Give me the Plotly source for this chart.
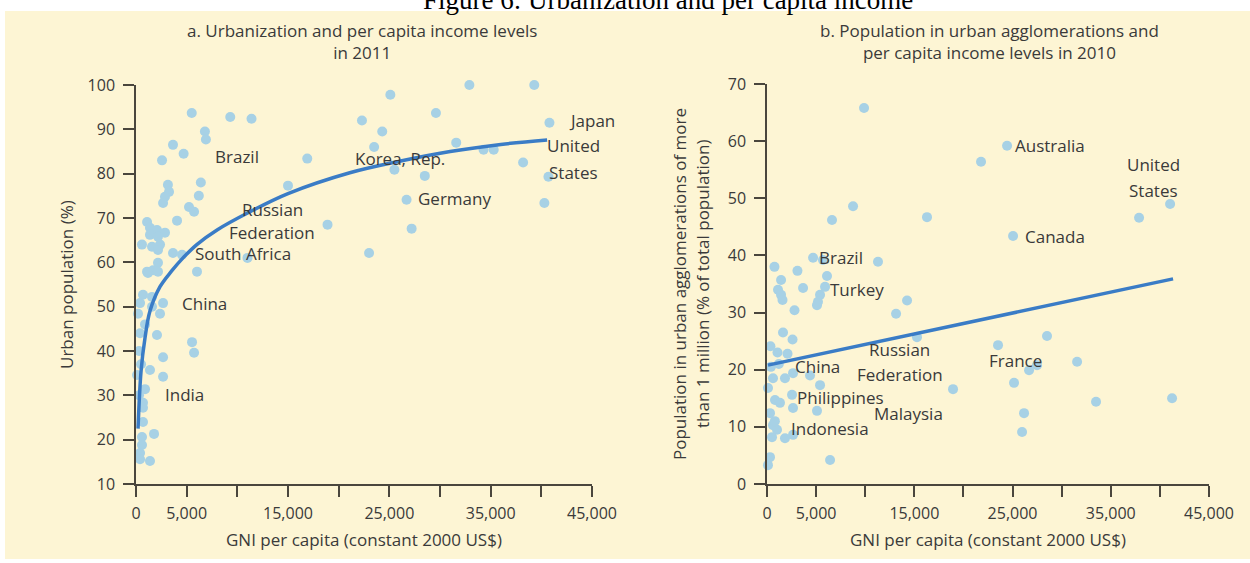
import plotly.graph_objects as go

# ---- panel a: urbanization vs income, 2011 ----
gni_a = [5500, 9300, 11400, 6800, 6900, 3650, 4700, 2570, 16900, 6400,
         3150, 3260, 6200, 2860, 2670, 5230, 5730, 4050, 1090, 1380,
         2070, 2860, 590, 1580, 2370, 3650, 4540, 6020, 11000, 1090,
         1680, 2170, 15000, 32900, 39300, 25100, 22300, 29600, 24300, 40800,
         23500, 31600, 25500, 28500, 38200, 40700, 34300, 35300, 26700, 40300,
         18900, 27200, 23000, 400, 1580, 2670, 2370, 200, 2070, 5530,
         5730, 2670, 1380, 100, 2670, 890, 690, 690, 690, 1780,
         590, 590, 400, 1380, 400, 1380, 2170, 2170, 1180, 690,
         1580, 400, 2170, 890, 300, 500, 300]
urban_a = [93.7, 92.8, 92.4, 89.5, 87.7, 86.5, 84.5, 83.0, 83.4, 78.0,
           77.5, 75.9, 75.0, 74.8, 73.4, 72.5, 71.4, 69.4, 69.1, 67.8,
           67.3, 66.7, 64.0, 63.5, 64.0, 62.1, 61.7, 57.9, 61.0, 57.9,
           58.2, 59.9, 77.3, 100.0, 100.0, 97.8, 92.0, 93.7, 89.5, 91.5,
           86.0, 87.0, 80.9, 79.5, 82.5, 79.3, 85.4, 85.4, 74.1, 73.4,
           68.5, 67.6, 62.1, 50.8, 52.2, 50.8, 48.4, 48.4, 43.6, 42.0,
           39.6, 38.6, 35.7, 34.6, 34.2, 31.4, 28.3, 27.2, 24.0, 21.3,
           20.6, 18.8, 17.0, 15.2, 15.6, 66.2, 65.8, 62.8, 57.6, 52.7,
           50.0, 44.0, 57.9, 46.0, 40.0, 37.0, 30.0]
trend_a_x = [200, 500, 890, 1380, 2370, 3500, 4640, 6000, 8000, 11250,
             15000, 21100, 26000, 31000, 36000, 40570]
trend_a_y = [22.5, 35.5, 43.0, 49.0, 54.5, 58.0, 61.0, 64.0, 67.3, 71.4,
             75.5, 80.2, 82.8, 85.0, 86.6, 87.6]
names_a = ["Japan", "United", "States", "Korea, Rep.", "Germany", "Brazil",
           "Russian", "Federation", "South Africa", "China", "India"]
lab_x_a = [42550, 43140, 43140, 26060, 27640, 7600, 13430, 13430, 5630, 4340, 2670]
lab_y_a = [91.9, 86.3, 80.3, 83.4, 74.3, 83.8, 71.9, 66.7, 62.1, 50.8, 30.3]
anchor_a = ["left", "center", "center", "center", "left", "left",
            "center", "center", "left", "left", "left"]

# ---- panel b: agglomerations vs income, 2010 ----
gni_b = [9880, 8760, 6620, 16290, 4690, 5700, 11300, 760, 3100, 6110,
         1430, 3670, 5910, 1120, 1430, 1580, 5400, 5190, 5090, 2800,
         14260, 13140, 1630, 2600, 350, 1070, 2090, 15270, 610, 100,
         1830, 2650, 4380, 5400, 2550, 815, 1320, 2650, 5090, 305,
         610, 1020, 510, 1830, 2650, 305, 100, 6420, 18940, 24440,
         21790, 25050, 37880, 41040, 28510, 23520, 31570, 27490, 26680, 25150,
         33500, 41240, 26170, 25970, 400, 1200, 800]
agglo_b = [65.8, 48.6, 46.2, 46.7, 39.6, 39.2, 38.9, 38.0, 37.3, 36.4,
           35.7, 34.3, 34.5, 34.0, 33.1, 32.2, 33.1, 31.9, 31.3, 30.4,
           32.1, 29.8, 26.5, 25.3, 24.1, 23.0, 22.8, 25.7, 18.5, 16.8,
           18.5, 19.4, 19.0, 17.3, 15.6, 14.7, 14.2, 13.3, 12.8, 12.4,
           10.3, 9.5, 8.2, 8.0, 8.6, 4.7, 3.3, 4.2, 16.6, 59.2,
           56.4, 43.4, 46.6, 49.0, 25.9, 24.3, 21.4, 20.8, 19.9, 17.7,
           14.4, 15.0, 12.4, 9.1, 20.5, 21.0, 11.0]
trend_b_x = [100, 41340]
trend_b_y = [20.8, 35.9]
names_b = ["Australia", "United", "States", "Canada", "Brazil", "Turkey",
           "Russian", "Federation", "China", "Philippines", "Malaysia",
           "Indonesia", "France"]
lab_x_b = [25050, 39300, 39300, 26070, 5090, 6210, 13540, 13540, 2650, 2850,
           10690, 2240, 22400]
lab_y_b = [59.2, 56.0, 51.4, 43.4, 39.7, 34.1, 23.5, 19.1, 20.5, 15.2,
           12.3, 9.8, 21.7]
anchor_b = ["left", "center", "center", "left", "left", "left", "center",
            "center", "left", "left", "left", "left", "left"]

x_ticks = [0, 5000, 10000, 15000, 20000, 25000, 30000, 35000, 40000, 45000]
x_ticktext = ["0", "5,000", "", "15,000", "", "25,000", "", "35,000", "", "45,000"]

W, H = 1250, 563
DOT = "#a7d1e5"
LINE = "#3a7cc6"
AXIS = "#4a463d"
TXT = "#3a3a3a"
FONT = "Open Sans"


def px(x):
    return x / W


def py(y):
    return 1 - y / H


def paper_text(text, x, y, size=17, angle=0, family=FONT, color=TXT):
    return dict(text=text, x=px(x), y=py(y), xref="paper", yref="paper",
                xanchor="center", yanchor="middle", textangle=angle,
                showarrow=False, font=dict(family=family, size=size, color=color))


fig = go.Figure()
fig.add_trace(go.Scatter(x=gni_a, y=urban_a, mode="markers", cliponaxis=False,
                         marker=dict(size=10, color=DOT), xaxis="x", yaxis="y"))
fig.add_trace(go.Scatter(x=trend_a_x, y=trend_a_y, mode="lines", line_shape="spline",
                         line=dict(color=LINE, width=3.5), xaxis="x", yaxis="y"))
fig.add_trace(go.Scatter(x=gni_b, y=agglo_b, mode="markers", cliponaxis=False,
                         marker=dict(size=10, color=DOT), xaxis="x2", yaxis="y2"))
fig.add_trace(go.Scatter(x=trend_b_x, y=trend_b_y, mode="lines",
                         line=dict(color=LINE, width=3.5), xaxis="x2", yaxis="y2"))

axis_common = dict(showgrid=False, zeroline=False, showline=True, linecolor=AXIS,
                   linewidth=1.5, ticks="outside", ticklen=11, tickwidth=1.5,
                   tickcolor=AXIS, automargin=False,
                   tickfont=dict(family=FONT, size=16, color=TXT))

annotations = []
for n, x, y, a in zip(names_a, lab_x_a, lab_y_a, anchor_a):
    annotations.append(dict(text=n, x=x, y=y, xref="x", yref="y", xanchor=a,
                            yanchor="middle", showarrow=False,
                            font=dict(family=FONT, size=17, color=TXT)))
for n, x, y, a in zip(names_b, lab_x_b, lab_y_b, anchor_b):
    annotations.append(dict(text=n, x=x, y=y, xref="x2", yref="y2", xanchor=a,
                            yanchor="middle", showarrow=False,
                            font=dict(family=FONT, size=17, color=TXT)))

annotations += [
    paper_text("Figure 6: Urbanization and per capita income", 668, 0,
               size=27, family="Liberation Serif", color="black"),
    paper_text("a. Urbanization and per capita income levels<br>in 2011", 362, 41.5),
    paper_text("b. Population in urban agglomerations and<br>per capita income levels in 2010",
               989, 41.5),
    paper_text("GNI per capita (constant 2000 US$)", 364, 539),
    paper_text("GNI per capita (constant 2000 US$)", 988, 539),
    paper_text("Urban population (%)", 66, 285, angle=-90),
    paper_text("Population in urban agglomerations of more", 679, 284, angle=-90),
    paper_text("than 1 million (% of total population)", 702, 284, angle=-90),
]

fig.update_layout(
    width=W, height=H,
    margin=dict(l=0, r=0, t=0, b=0, pad=0, autoexpand=False),
    paper_bgcolor="white",
    plot_bgcolor="rgba(0,0,0,0)",
    showlegend=False,
    xaxis=dict(domain=[px(136), px(592)], range=[0, 45000], anchor="y",
               tickvals=x_ticks, ticktext=x_ticktext, ticklabelstandoff=3,
               **axis_common),
    yaxis=dict(domain=[py(484), py(85)], range=[10, 100], anchor="x",
               tickvals=list(range(10, 101, 10)), ticklabelstandoff=5,
               **axis_common),
    xaxis2=dict(domain=[px(767), px(1209)], range=[0, 45000], anchor="y2",
                tickvals=x_ticks, ticktext=x_ticktext, ticklabelstandoff=3,
                **axis_common),
    yaxis2=dict(domain=[py(484), py(84)], range=[0, 70], anchor="x2",
                tickvals=list(range(0, 71, 10)), ticklabelstandoff=5,
                **axis_common),
    shapes=[dict(type="rect", xref="paper", yref="paper", layer="below",
                 x0=px(5), x1=1, y0=py(559), y1=py(11),
                 fillcolor="#fdf5d4", line=dict(width=0))],
    annotations=annotations,
)

# drop the default page margin so the figure sits at the window's corner
fig.write_html("out.html", config={"displayModeBar": False},
               post_script="document.body.style.margin='0';")
